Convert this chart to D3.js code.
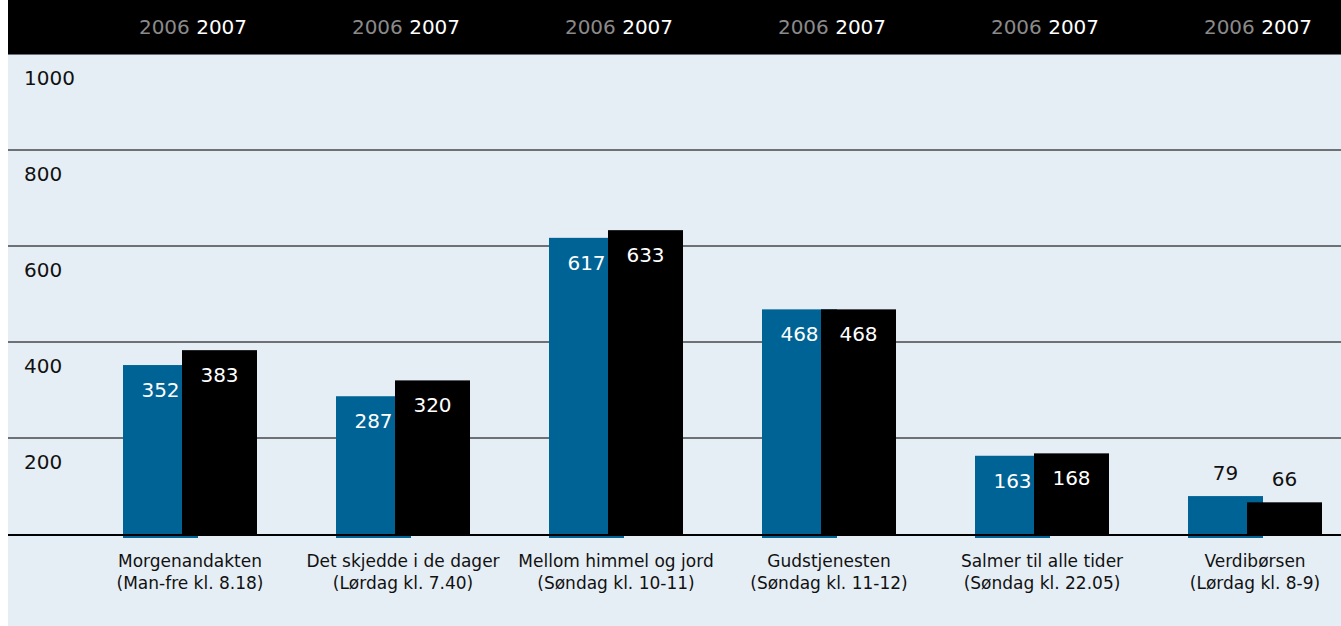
<!DOCTYPE html>
<html>
<head>
<meta charset="utf-8">
<script src="https://cdn.jsdelivr.net/npm/d3@7"></script>
<style>
  body { margin: 0; background: #fff; }
  svg { display: block; font-family: "DejaVu Sans", sans-serif; }
</style>
</head>
<body>
<div id="chart"></div>
<script>
// data
var programs = ["Morgenandakten", "Det skjedde i de dager", "Mellom himmel og jord",
  "Gudstjenesten", "Salmer til alle tider", "Verdibørsen"];
var times = ["(Man-fre kl. 8.18)", "(Lørdag kl. 7.40)", "(Søndag kl. 10-11)",
  "(Søndag kl. 11-12)", "(Søndag kl. 22.05)", "(Lørdag kl. 8-9)"];
var years = ["2006", "2007"];
var values2006 = [352, 287, 617, 468, 163, 79];
var values2007 = [383, 320, 633, 468, 168, 66];
var yTicks = [200, 400, 600, 800, 1000];

var svgWidth = 1341;
var svgHeight = 626;

var svg = d3.select("#chart")
  .append("svg")
  .attr("width", svgWidth)
  .attr("height", svgHeight);

// background panel + black header band
svg.append("rect")
  .attr("x", 8).attr("y", 0)
  .attr("width", svgWidth - 8).attr("height", svgHeight)
  .attr("fill", "#e6eef5");

// scales
var x = d3.scaleBand()
  .domain(programs)
  .range([83.5, 1361.5]);

var y = d3.scaleLinear()
  .domain([0, 1000])
  .range([534, 54]);

var barW = 75;
var overlap = 16;

// gridlines
svg.append("g")
  .selectAll("line")
  .data(yTicks)
  .enter()
  .append("line")
  .attr("x1", 8)
  .attr("x2", svgWidth)
  .attr("y1", d => y(d))
  .attr("y2", d => y(d))
  .attr("stroke", "#6d7175")
  .attr("stroke-width", 2);

svg.append("rect")
  .attr("x", 8).attr("y", 0)
  .attr("width", svgWidth - 8).attr("height", 54)
  .attr("fill", "#000");

// tick labels sit below their line
svg.append("g")
  .selectAll("text")
  .data(yTicks)
  .enter()
  .append("text")
  .attr("x", 24)
  .attr("y", d => y(d) + 31)
  .attr("font-size", 20)
  .attr("fill", "#111")
  .text(d => d);

var groups = svg.append("g")
  .selectAll("g")
  .data(programs)
  .enter()
  .append("g")
  .attr("transform", d => `translate(${x(d) + x.bandwidth() / 2}, 0)`);

var left = -(2 * barW - overlap) / 2;

// 2006 bars
groups.append("rect")
  .attr("x", left)
  .attr("y", (d, i) => y(values2006[i]))
  .attr("width", barW)
  .attr("height", (d, i) => y(0) - y(values2006[i]) + 4)
  .attr("fill", "#006396");

// baseline
svg.append("line")
  .attr("x1", 8).attr("x2", svgWidth)
  .attr("y1", 535).attr("y2", 535)
  .attr("stroke", "#000")
  .attr("stroke-width", 2);

// 2007 bars
groups.append("rect")
  .attr("x", left + barW - overlap)
  .attr("y", (d, i) => y(values2007[i]))
  .attr("width", barW)
  .attr("height", (d, i) => y(0) - y(values2007[i]) + 1)
  .attr("fill", "#000");

// value labels: inside the bar when tall enough, above it otherwise
function labelY(v) {
  return v > 120 ? y(v) + 32 : y(v) - 16;
}
function labelFill(v) {
  return v > 120 ? "#fff" : "#111";
}

groups.append("text")
  .attr("x", left + barW / 2)
  .attr("y", (d, i) => labelY(values2006[i]))
  .attr("text-anchor", "middle")
  .attr("font-size", 20)
  .attr("fill", (d, i) => labelFill(values2006[i]))
  .text((d, i) => values2006[i]);

groups.append("text")
  .attr("x", left + barW - overlap + barW / 2)
  .attr("y", (d, i) => labelY(values2007[i]))
  .attr("text-anchor", "middle")
  .attr("font-size", 20)
  .attr("fill", (d, i) => labelFill(values2007[i]))
  .text((d, i) => values2007[i]);

// header year labels
var head = groups.append("text")
  .attr("x", 3)
  .attr("y", 34)
  .attr("text-anchor", "middle")
  .attr("font-size", 20);
head.append("tspan").attr("fill", "#8a8a8a").text(years[0] + " ");
head.append("tspan").attr("fill", "#fff").text(years[1]);

// category labels
groups.append("text")
  .attr("x", 0)
  .attr("y", 567)
  .attr("text-anchor", "middle")
  .attr("font-size", 17)
  .attr("fill", "#111")
  .text(d => d);

groups.append("text")
  .attr("x", 0)
  .attr("y", 589)
  .attr("text-anchor", "middle")
  .attr("font-size", 17)
  .attr("fill", "#111")
  .text((d, i) => times[i]);
</script>
</body>
</html>
